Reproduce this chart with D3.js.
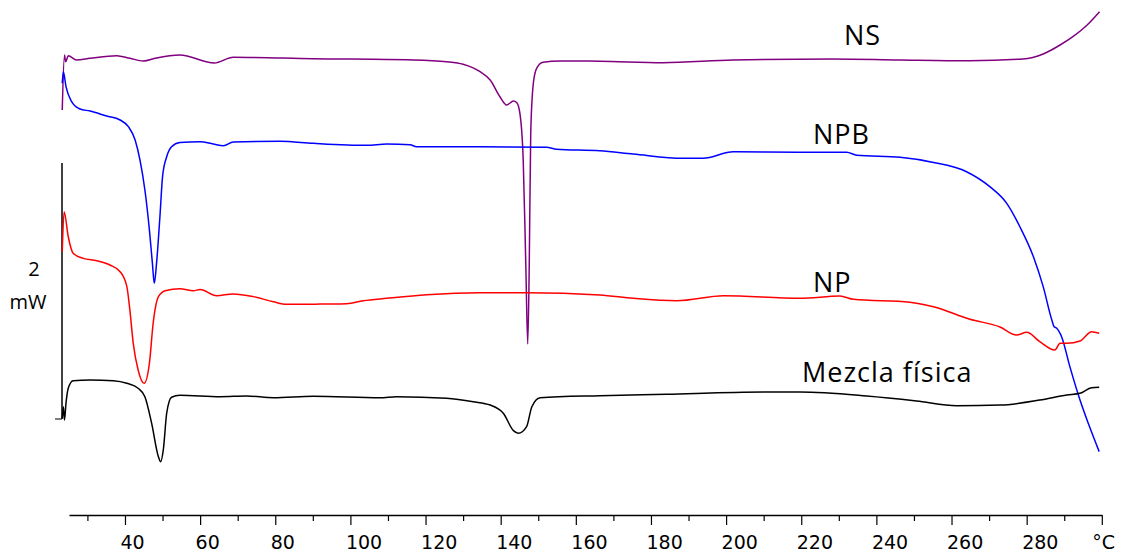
<!DOCTYPE html>
<html>
<head>
<meta charset="utf-8">
<script src="https://cdn.jsdelivr.net/npm/d3@7"></script>
<style>
  body { margin: 0; background: #fff; }
  svg { display: block; }
  .curve { fill: none; stroke-width: 1.5; stroke-linejoin: round; }
  .lbl { font-family: "Open Sans", sans-serif; fill: #000; }
  .axis text { font-family: "DejaVu Sans", sans-serif; font-size: 19px; fill: #000; }
  .axis path, .axis line { stroke: #000; }
</style>
</head>
<body>
<svg width="1122" height="555"></svg>
<script>
// temperature (°C), heat flow (mW, curves already shifted as in the plot)
var nsData = [
  [23.3,3.164],[23.9,3.594],[24.2,3.541],[24.9,3.588],[27.1,3.555],[30.7,3.568],[37.8,3.588],
  [41.3,3.568],[44.9,3.547],[48.0,3.568],[54.6,3.594],[63.8,3.531],[68.8,3.576],[90.0,3.565],
  [116.7,3.555],[125.6,3.541],[130.0,3.521],[134.5,3.463],[137.2,3.398],[139.8,3.268],
  [141.6,3.203],[143.4,3.234],[144.3,3.221],[145.1,3.141],[146.0,2.773],[146.7,1.940],
  [147.2,1.336],[147.6,1.940],[148.0,2.984],[148.7,3.375],[149.6,3.492],[151.3,3.537],
  [155.8,3.547],[166.4,3.545],[183.2,3.534],[201.8,3.555],[228.4,3.563],[246.3,3.555],
  [264.9,3.549],[279.0,3.563],[284.4,3.602],[288.9,3.672],[292.3,3.737],[296.1,3.828],[299.4,3.932]
];

var npbData = [
  [23.3,3.373],[23.6,3.463],[24.3,3.346],[25.8,3.229],[28.0,3.172],[30.7,3.156],[35.1,3.117],
  [38.7,3.086],[40.9,3.034],[42.7,2.930],[44.0,2.773],[45.3,2.539],[46.5,2.227],[47.3,1.966],
  [47.8,1.810],[48.4,1.966],[49.3,2.330],[50.0,2.643],[51.1,2.799],[52.4,2.877],[54.6,2.910],
  [60.0,2.916],[63.5,2.898],[66.2,2.885],[68.8,2.914],[81.3,2.920],[90.1,2.904],[104.3,2.888],
  [109.7,2.898],[115.9,2.893],[117.6,2.877],[134.5,2.877],[152.2,2.873],[154.9,2.857],
  [166.4,2.845],[175.3,2.820],[188.6,2.787],[193.9,2.787],[201.9,2.838],[219.7,2.834],
  [232.1,2.834],[234.8,2.810],[246.3,2.795],[255.2,2.754],[264.0,2.682],[270.2,2.565],
  [274.7,2.435],[278.2,2.252],[281.8,2.018],[284.4,1.784],[286.7,1.523],[287.3,1.471],
  [288.0,1.459],[289.3,1.393],[291.5,1.159],[294.2,0.898],[296.4,0.716],[299.3,0.495]
];

var npData = [
  [23.3,2.057],[23.8,2.370],[24.9,2.174],[26.2,2.045],[28.9,2.005],[32.5,1.987],[36.0,1.953],
  [38.7,1.901],[40.5,1.784],[41.3,1.602],[42.2,1.341],[43.5,1.133],[45.1,1.029],[46.5,1.185],
  [47.5,1.498],[48.9,1.706],[50.7,1.752],[54.6,1.768],[58.2,1.752],[60.0,1.762],[64.4,1.713],
  [68.8,1.727],[74.2,1.706],[79.5,1.666],[83.0,1.646],[88.4,1.646],[91.9,1.648],[99.0,1.651],
  [103.4,1.674],[109.7,1.693],[120.3,1.721],[134.5,1.737],[146.9,1.737],[166.4,1.719],
  [175.3,1.693],[186.9,1.674],[199.3,1.713],[219.7,1.693],[230.3,1.711],[233.9,1.685],
  [248.9,1.662],[255.2,1.627],[264.9,1.529],[272.9,1.469],[277.3,1.406],[280.0,1.427],
  [283.5,1.354],[287.5,1.289],[288.9,1.341],[290.7,1.341],[294.2,1.359],[297.3,1.432],[299.3,1.420]
];

var mezclaData = [
  [23.3,0.755],[23.6,0.846],[23.9,0.742],[24.3,0.873],[24.9,0.990],[26.2,1.049],[30.7,1.055],
  [36.9,1.049],[40.5,1.029],[43.5,0.990],[45.3,0.924],[47.1,0.716],[48.9,0.455],[49.5,0.416],
  [50.2,0.508],[51.1,0.795],[52.4,0.920],[54.6,0.935],[65.3,0.924],[72.4,0.930],[79.5,0.916],
  [90.1,0.927],[107.9,0.916],[112.3,0.924],[125.6,0.912],[132.7,0.885],[137.2,0.859],
  [140.7,0.795],[143.4,0.659],[144.7,0.638],[146.9,0.690],[148.3,0.846],[150.5,0.916],
  [166.4,0.932],[184.2,0.943],[204.6,0.959],[219.7,0.961],[237.4,0.930],[250.7,0.891],
  [261.4,0.854],[272.9,0.859],[283.5,0.898],[290.7,0.938],[294.2,0.951],[297.3,0.995],[299.3,0.998]
];

var seriesNames = ["NS", "NPB", "NP", "Mezcla física"];
var tickTemps = d3.range(30, 301, 10);
var scaleBar = [0.75, 2.75]; // 2 mW

var svg = d3.select("svg");

var x = d3.scaleLinear().domain([25.1, 300]).range([69, 1101.8]);
var y = d3.scaleLinear().domain([0, 4]).range([515, 3]);

var line = d3.line()
  .x(function(d) { return x(d[0]); })
  .y(function(d) { return y(d[1]); })
  .curve(d3.curveMonotoneX);

var series = [
  { name: seriesNames[0], data: nsData, color: "#800080", lx: 844, ly: 45 },
  { name: seriesNames[1], data: npbData, color: "#0000ff", lx: 813, ly: 144 },
  { name: seriesNames[2], data: npData, color: "#ff0000", lx: 813, ly: 291.5 },
  { name: seriesNames[3], data: mezclaData, color: "#000000", lx: 802, ly: 381.5 }
];

// x axis
var axis = d3.axisBottom(x)
  .tickValues(tickTemps)
  .tickSizeInner(10)
  .tickSizeOuter(0)
  .tickFormat(function(d) {
    if (d === 300) return "°C";
    return d % 20 === 0 ? d : "";
  });

var gx = svg.append("g")
  .attr("class", "axis")
  .attr("transform", "translate(0,515)")
  .call(axis);

gx.select(".domain").attr("stroke-width", 1.5);
gx.selectAll(".tick line")
  .attr("stroke-width", 1.2)
  .attr("y2", function(d) { return (d % 20 === 0) ? 10 : 6; });
gx.selectAll(".tick text")
  .attr("y", 34)
  .attr("dy", 0)
  .attr("x", function(d) { return d === 300 ? -10 : -5; })
  .attr("text-anchor", "start");

// scale bar
svg.append("line")
  .attr("x1", 62).attr("x2", 62)
  .attr("y1", y(scaleBar[1])).attr("y2", y(scaleBar[0]))
  .attr("stroke", "#000").attr("stroke-width", 1.5);
svg.append("line")
  .attr("x1", 55).attr("x2", 62)
  .attr("y1", y(scaleBar[0])).attr("y2", y(scaleBar[0]))
  .attr("stroke", "#000").attr("stroke-width", 1);
svg.append("text").attr("class", "lbl")
  .attr("x", 34).attr("y", 276).attr("text-anchor", "middle")
  .style("font-size", "20px").text("2");
svg.append("text").attr("class", "lbl")
  .attr("x", 28).attr("y", 309).attr("text-anchor", "middle")
  .style("font-size", "20px").text("mW");

// curves
svg.selectAll(".curve")
  .data(series)
  .enter().append("path")
  .attr("class", "curve")
  .attr("stroke", function(d) { return d.color; })
  .attr("d", function(d) { return line(d.data); });

svg.selectAll(".name")
  .data(series)
  .enter().append("text")
  .attr("class", "lbl name")
  .attr("x", function(d) { return d.lx; })
  .attr("y", function(d) { return d.ly; })
  .style("font-size", "27px")
  .style("letter-spacing", "1px")
  .text(function(d) { return d.name; });
</script>
</body>
</html>
